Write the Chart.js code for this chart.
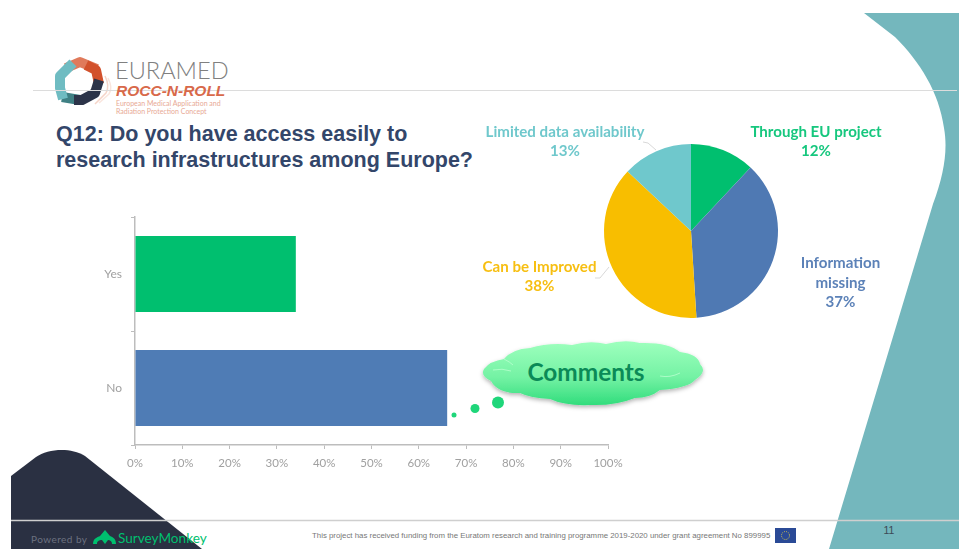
<!DOCTYPE html>
<html>
<head>
<meta charset="utf-8">
<title>Q12</title>
<script src="https://cdn.jsdelivr.net/npm/chart.js@4"></script>
<style>
    html, body { margin: 0; padding: 0; background: #fff; }
    #slide { position: relative; width: 959px; height: 549px; overflow: hidden; }
    #slide svg, #slide canvas { position: absolute; left: 0; top: 0; }
</style>
</head>
<body>
<div id="slide">
    <!-- Slide artwork: corner shapes, logo, title, footer -->
    <svg width="959" height="549" viewBox="0 0 959 549">
        <defs>
            <linearGradient id="cloudFill" gradientUnits="userSpaceOnUse" x1="0" y1="342" x2="0" y2="406">
                <stop offset="0" stop-color="#9dffbd"/>
                <stop offset="0.55" stop-color="#74f2a4"/>
                <stop offset="1" stop-color="#2fdc7b"/>
            </linearGradient>
            <filter id="cloudShadow" x="-10%" y="-20%" width="120%" height="150%">
                <feDropShadow dx="0" dy="2" stdDeviation="2" flood-color="#000" flood-opacity="0.3"/>
            </filter>
        </defs>

        <path d="M864,13 L959,13 L959,549 L829,549 L933,204 C944,175 948,150 944,128 C939,92 920,62 895,37 Z" fill="#74b7bd"/>
        <path d="M11,476 L36,457 C48,449 70,447 85,456 L202,549 L11,549 Z" fill="#2a3042"/>

        <!-- Logo ring -->
        <g fill="none">
            <path d="M105,76 Q110,86 106,93 L95,104" stroke="#efb7a4" stroke-width="1.5" opacity="0.6"/>
            <path d="M108,78 Q113,88 109,94 L99,103" stroke="#f5d3c7" stroke-width="1.5" opacity="0.6"/>
        </g>
        <g fill="none" stroke-width="10" stroke-linejoin="round">
            <path d="M66,68 L80,62 L97,69" stroke="#e07a5b"/>
            <path d="M86,65 L96,70 L99,84" stroke="#d2512c"/>
            <path d="M62,97 L80,100" stroke="#3f8084"/>
            <path d="M74,100 L82,100 L95,93 L99,80" stroke="#2c3449"/>
            <path d="M73,63 L60,76 L60,88 L63,99" stroke="#6fbcc2"/>
        </g>

        <line x1="33" y1="90.5" x2="957" y2="90.5" stroke="#dcdcdc" stroke-width="1"/>
        <line x1="11" y1="520.5" x2="959" y2="520.5" stroke="#cfcfcf" stroke-width="1.5"/>

        <text x="115" y="79" font-family="Lato, sans-serif" font-weight="300" font-size="23.6" fill="#808080">EURAMED</text>
        <text x="116" y="96" font-family="'Liberation Sans', sans-serif" font-weight="700" font-style="italic" font-size="15.5" fill="#d8694a">ROCC-N-ROLL</text>
        <text x="116" y="105.5" font-family="Lato, sans-serif" font-size="7" fill="#e8a995">European Medical Application and</text>
        <text x="116" y="113.5" font-family="Lato, sans-serif" font-size="7" fill="#e8a995">Radiation Protection Concept</text>

        <text x="56" y="140.5" font-family="'Liberation Sans', sans-serif" font-weight="700" font-size="21.5" fill="#33466a">Q12: Do you have access easily to</text>
        <text x="56" y="166.5" font-family="'Liberation Sans', sans-serif" font-weight="700" font-size="21.5" fill="#33466a">research infrastructures among Europe?</text>

        <!-- Leader lines of the pie labels -->
        <polyline points="643,142 648,143 656,150" fill="none" stroke="#d9d9d9"/>
        <polyline points="595,278 600,278 609,267" fill="none" stroke="#d9d9d9"/>

        <!-- Comments cloud -->
        <g fill="#1fd67a">
            <circle cx="454" cy="415" r="2.5"/>
            <circle cx="475" cy="408.5" r="4.5"/>
            <circle cx="498" cy="402.5" r="6"/>
        </g>
        <path d="M484,369 Q490,361 504,359 Q512,349 530,348 Q550,342 572,345 Q590,340 606,344 Q625,339 640,343 Q668,342 680,352 Q698,354 700,364 Q708,372 695,380 Q688,388 660,390 Q650,398 635,398 Q615,406 590,405 Q565,406 550,399 Q530,398 520,393 Q498,394 491,381 Q480,376 484,369 Z"
              fill="url(#cloudFill)" filter="url(#cloudShadow)"/>
        <g fill="none" stroke="#b9ffd0" stroke-width="1" opacity="0.8">
            <path d="M493,370 Q502,368 511,371"/>
            <path d="M660,376 Q670,378 680,373"/>
            <path d="M504,359 Q510,362 513,365"/>
        </g>
        <text x="586" y="381" text-anchor="middle" font-family="Lato, sans-serif" font-weight="700" font-size="24.4" fill="#0b8a57">Comments</text>

        <!-- Footer -->
        <text x="31" y="543" font-family="Lato, sans-serif" font-size="10" letter-spacing="0.45" fill="#6c7180">Powered by</text>
        <path d="M93,544 C93,538 98,537 100,536 L105,530 L110,536 C113,537 116,539 116,544 L112,544 C112,541 110,540 108,540 L105,544 L102,540 C99,540 97,541 97,544 Z" fill="#00bf6f"/>
        <text x="118" y="543" font-family="Lato, sans-serif" font-size="13.6" fill="#00bf6f">SurveyMonkey</text>
        <text x="312" y="538" font-family="'Liberation Sans', sans-serif" font-size="7.85" fill="#777">This project has received funding from the Euratom research and training programme 2019-2020 under grant agreement No 899995</text>
        <rect x="775" y="528" width="21" height="15" fill="#2a4a96"/>
        <circle cx="785.5" cy="535.5" r="4" fill="none" stroke="#d8c84a" stroke-width="1" stroke-dasharray="1 1.1"/>
        <text x="889" y="534" text-anchor="middle" font-family="'Liberation Sans', sans-serif" font-size="10.5" fill="#3c4a55">11</text>
    </svg>

    <canvas id="barChart" width="959" height="549"></canvas>
    <canvas id="pieChart" width="959" height="549"></canvas>
</div>

<script>
// Bar chart data (share of answers, %)
const barCategories = ['Yes', 'No'];
const barValues = [34, 66];
const barColors = ['#00bf6f', '#4f7cb5'];
const percentTicks = [0, 10, 20, 30, 40, 50, 60, 70, 80, 90, 100];

// Pie chart data (%), clockwise from the top
const pieCategories = ['Through EU project', 'Information missing', 'Can be improved', 'Limited data availability'];
const pieValues = [12, 37, 38, 13];
const pieColors = ['#00bf6f', '#4f79b3', '#f8be00', '#6fc8cc'];
const pieLabelColors = ['#16c77e', '#5c82b8', '#f7bf12', '#6fc8cc'];

// Where each pie label sits: centre x and the baseline of each line
const pieLabelLines = [
    ['Through EU project'],
    ['Information', 'missing'],
    ['Can be Improved'],
    ['Limited data availability']
];
const pieLabelSpots = [
    { x: 816, y: [137, 156] },
    { x: 840.5, y: [268, 288, 307] },
    { x: 539.5, y: [272, 291] },
    { x: 565, y: [137, 156] }
];

const axisGray = '#bdbdbd';
const tickGray = '#a0a0a0';

new Chart(document.getElementById('barChart'), {
    type: 'bar',
    data: {
        labels: barCategories,
        datasets: [{
            data: barValues,
            backgroundColor: barColors,
            borderWidth: 0,
            categoryPercentage: 1,
            barPercentage: 76 / 114
        }]
    },
    options: {
        indexAxis: 'y',
        responsive: false,
        animation: false,
        layout: { padding: { left: 0, right: 351, top: 217, bottom: 0 } },
        plugins: { legend: { display: false }, tooltip: { enabled: false } },
        scales: {
            x: {
                min: 0,
                max: 100,
                afterBuildTicks: axis => { axis.ticks = percentTicks.map(value => ({ value })); },
                afterFit: axis => { axis.height = 104; axis.paddingLeft = 0; axis.paddingRight = 0; },
                border: { color: axisGray, width: 1.5 },
                grid: { drawOnChartArea: false, color: axisGray, tickLength: 4 },
                ticks: {
                    color: tickGray,
                    maxRotation: 0,
                    autoSkip: false,
                    padding: 7,
                    font: { family: 'Lato', size: 11.5 },
                    callback: value => `${value}%`
                }
            },
            y: {
                afterFit: axis => { axis.width = 135; axis.paddingTop = 0; axis.paddingBottom = 0; },
                border: { color: axisGray, width: 1.5 },
                grid: { drawOnChartArea: false, color: axisGray, tickLength: 4 },
                ticks: {
                    color: tickGray,
                    padding: 9,
                    font: { family: 'Lato', size: 12 }
                }
            }
        }
    }
});

// Writes the category name and percentage beside each slice
const pieLabelPlugin = {
    id: 'pieLabels',
    afterDraw(chart) {
        const ctx = chart.ctx;
        ctx.save();
        ctx.font = 'bold 15.1px Lato';
        ctx.textAlign = 'center';
        ctx.textBaseline = 'alphabetic';
        pieValues.forEach((value, i) => {
            const lines = [...pieLabelLines[i], `${value}%`];
            const spot = pieLabelSpots[i];
            ctx.fillStyle = pieLabelColors[i];
            lines.forEach((line, k) => ctx.fillText(line, spot.x, spot.y[k]));
        });
        ctx.restore();
    }
};

new Chart(document.getElementById('pieChart'), {
    type: 'pie',
    data: {
        labels: pieCategories,
        datasets: [{
            data: pieValues,
            backgroundColor: pieColors,
            borderWidth: 0
        }]
    },
    options: {
        responsive: false,
        animation: false,
        layout: { padding: { left: 604, right: 181, top: 144, bottom: 231 } },
        plugins: { legend: { display: false }, tooltip: { enabled: false } }
    },
    plugins: [pieLabelPlugin]
});
</script>
</body>
</html>
